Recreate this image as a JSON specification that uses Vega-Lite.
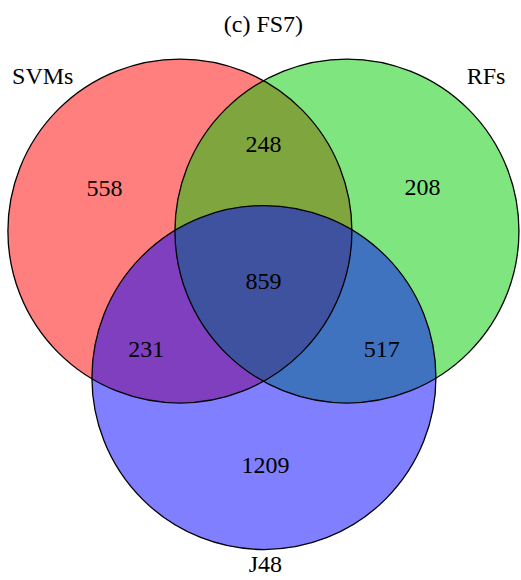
{
  "$schema": "https://vega.github.io/schema/vega-lite/v6.json",
  "width": 521,
  "height": 580,
  "autosize": {"type": "fit", "contains": "padding"},
  "padding": 0,
  "background": "white",
  "config": {"view": {"stroke": null}},
  "datasets": {
    "sets": [
      {"set": "SVMs", "cx": -0.5, "cy": 0},
      {"set": "RFs", "cx": 0.5, "cy": 0},
      {"set": "J48", "cx": 0.003, "cy": -0.872}
    ],
    "labels": [
      {"text": "(c) FS7)", "x": 0, "y": 1.226},
      {"text": "SVMs", "x": -1.321, "y": 0.917},
      {"text": "RFs", "x": 1.333, "y": 0.917},
      {"text": "J48", "x": 0.012, "y": -1.99},
      {"text": "558", "x": -0.952, "y": 0.25},
      {"text": "248", "x": 0, "y": 0.512},
      {"text": "208", "x": 0.952, "y": 0.256},
      {"text": "859", "x": 0, "y": -0.304},
      {"text": "231", "x": -0.702, "y": -0.708},
      {"text": "517", "x": 0.708, "y": -0.708},
      {"text": "1209", "x": 0.012, "y": -1.399}
    ]
  },
  "layer": [
    {
      "data": {"name": "sets"},
      "mark": {"type": "circle", "size": 118336, "opacity": 1, "fillOpacity": 0.5, "strokeWidth": 0},
      "encoding": {
        "x": {"field": "cx", "type": "quantitative", "scale": {"domain": [-1.577, 1.524], "nice": false, "zero": false}, "axis": null},
        "y": {"field": "cy", "type": "quantitative", "scale": {"domain": [-2.077, 1.375], "nice": false, "zero": false}, "axis": null},
        "color": {
          "field": "set",
          "type": "nominal",
          "scale": {"domain": ["SVMs", "RFs", "J48"], "range": ["#ff0000", "#00cc00", "#0000ff"]},
          "legend": null
        }
      }
    },
    {
      "data": {"name": "sets"},
      "mark": {"type": "point", "shape": "circle", "size": 118336, "filled": false, "opacity": 1, "stroke": "black", "strokeWidth": 1.3},
      "encoding": {
        "x": {"field": "cx", "type": "quantitative"},
        "y": {"field": "cy", "type": "quantitative"}
      }
    },
    {
      "data": {"name": "labels"},
      "mark": {"type": "text", "font": "Liberation Serif", "fontSize": 24, "align": "center", "baseline": "middle", "color": "black"},
      "encoding": {
        "x": {"field": "x", "type": "quantitative"},
        "y": {"field": "y", "type": "quantitative"},
        "text": {"field": "text", "type": "nominal"}
      }
    }
  ]
}
